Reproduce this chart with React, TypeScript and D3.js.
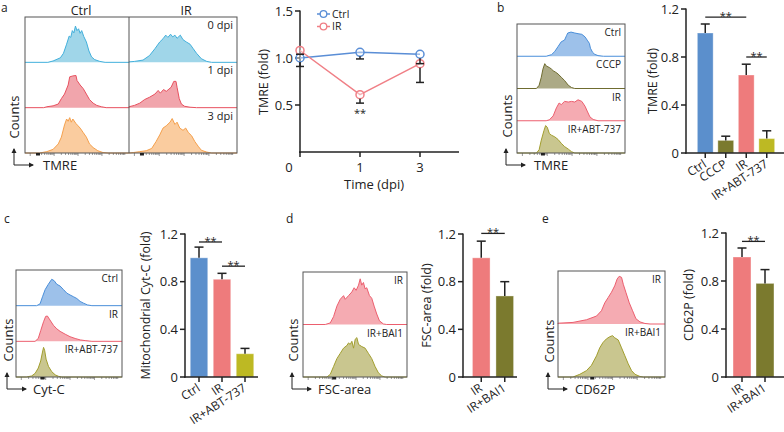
import React from "react";
import * as d3 from "d3";

const FONT = "'Open Sans', 'Noto Sans', sans-serif";

type P = [number, number];

// ---------- Panel a: flow histograms (log-axis position 0..1, relative count 0..1)
const aCtrl0: P[] = [[0.22,0],[0.27,0.03],[0.34,0.1],[0.37,0.2],[0.40,0.4],[0.425,0.58],[0.44,0.55],[0.455,0.7],[0.47,0.65],[0.485,0.8],[0.5,0.7],[0.515,0.74],[0.53,0.64],[0.545,0.7],[0.565,0.57],[0.59,0.45],[0.615,0.25],[0.64,0.12],[0.67,0.06],[0.72,0.02],[0.77,0]];
const aCtrl1: P[] = [[0.18,0],[0.21,0.02],[0.27,0.04],[0.32,0.08],[0.35,0.2],[0.38,0.3],[0.415,0.5],[0.43,0.68],[0.46,0.7],[0.49,0.71],[0.5,0.6],[0.53,0.5],[0.56,0.42],[0.59,0.3],[0.62,0.18],[0.655,0.1],[0.69,0.05],[0.735,0.02],[0.78,0]];
const aCtrl3: P[] = [[0.14,0],[0.21,0.03],[0.27,0.08],[0.32,0.2],[0.35,0.35],[0.38,0.62],[0.40,0.75],[0.415,0.7],[0.43,0.78],[0.445,0.68],[0.46,0.75],[0.49,0.65],[0.51,0.6],[0.53,0.55],[0.56,0.45],[0.59,0.35],[0.62,0.2],[0.655,0.12],[0.70,0.05],[0.75,0.01],[0.80,0]];
const aIR0: P[] = [[0.0,0.01],[0.05,0.02],[0.13,0.05],[0.19,0.15],[0.24,0.3],[0.285,0.45],[0.315,0.52],[0.34,0.6],[0.36,0.55],[0.385,0.62],[0.405,0.56],[0.425,0.6],[0.445,0.53],[0.475,0.6],[0.50,0.5],[0.53,0.45],[0.565,0.4],[0.595,0.3],[0.625,0.2],[0.67,0.08],[0.72,0.02],[0.765,0]];
const aIR1: P[] = [[0.0,0.02],[0.05,0.05],[0.10,0.1],[0.145,0.18],[0.19,0.23],[0.24,0.3],[0.27,0.38],[0.29,0.32],[0.32,0.4],[0.345,0.36],[0.37,0.41],[0.39,0.45],[0.415,0.58],[0.435,0.58],[0.445,0.45],[0.465,0.2],[0.485,0.08],[0.515,0.03],[0.565,0.01],[0.625,0]];
const aIR3: P[] = [[0.04,0.01],[0.10,0.03],[0.16,0.05],[0.21,0.1],[0.25,0.25],[0.285,0.4],[0.315,0.55],[0.345,0.6],[0.38,0.68],[0.40,0.76],[0.425,0.63],[0.445,0.68],[0.47,0.55],[0.50,0.5],[0.525,0.55],[0.55,0.45],[0.58,0.38],[0.61,0.25],[0.64,0.15],[0.67,0.06],[0.72,0.02],[0.765,0]];

// ---------- Panel b histograms
const bCtrl: P[] = [[0.27,0],[0.32,0.05],[0.35,0.15],[0.38,0.3],[0.41,0.45],[0.44,0.5],[0.46,0.65],[0.47,0.72],[0.50,0.75],[0.535,0.72],[0.565,0.7],[0.60,0.68],[0.63,0.6],[0.65,0.5],[0.67,0.4],[0.68,0.25],[0.70,0.12],[0.72,0.06],[0.75,0.02],[0.80,0]];
const bCCCP: P[] = [[0.18,0],[0.205,0.1],[0.225,0.35],[0.24,0.6],[0.257,0.77],[0.27,0.7],[0.30,0.65],[0.32,0.6],[0.335,0.55],[0.36,0.5],[0.38,0.45],[0.41,0.35],[0.44,0.25],[0.475,0.1],[0.505,0.03],[0.535,0]];
const bIR: P[] = [[0.27,0],[0.30,0.03],[0.335,0.15],[0.365,0.4],[0.39,0.55],[0.41,0.5],[0.44,0.6],[0.475,0.58],[0.505,0.6],[0.535,0.58],[0.565,0.65],[0.60,0.6],[0.63,0.45],[0.65,0.3],[0.675,0.12],[0.705,0.04],[0.75,0]];
const bABT: P[] = [[0.18,0],[0.205,0.1],[0.225,0.4],[0.25,0.7],[0.265,0.85],[0.28,0.8],[0.30,0.6],[0.32,0.55],[0.35,0.5],[0.38,0.42],[0.41,0.3],[0.44,0.2],[0.475,0.12],[0.505,0.04],[0.535,0]];

// ---------- Panel c histograms
const cCtrl: P[] = [[0.195,0],[0.227,0.05],[0.25,0.25],[0.275,0.45],[0.305,0.6],[0.337,0.74],[0.36,0.7],[0.385,0.6],[0.416,0.55],[0.448,0.45],[0.48,0.35],[0.51,0.3],[0.543,0.25],[0.574,0.2],[0.605,0.12],[0.637,0.07],[0.675,0.02],[0.716,0]];
const cIR: P[] = [[0.18,0],[0.21,0.08],[0.233,0.3],[0.26,0.55],[0.28,0.7],[0.296,0.71],[0.32,0.6],[0.353,0.45],[0.385,0.35],[0.416,0.28],[0.464,0.2],[0.51,0.13],[0.558,0.08],[0.606,0.04],[0.653,0.02],[0.716,0]];
const cABT: P[] = [[0.10,0],[0.148,0.03],[0.18,0.1],[0.21,0.25],[0.233,0.45],[0.25,0.7],[0.26,0.83],[0.27,0.75],[0.284,0.5],[0.306,0.3],[0.337,0.15],[0.37,0.06],[0.40,0.02],[0.432,0]];

// ---------- Panel d histograms
const dIR: P[] = [[0.214,0],[0.262,0.03],[0.294,0.15],[0.326,0.35],[0.358,0.48],[0.39,0.55],[0.406,0.48],[0.438,0.55],[0.47,0.62],[0.492,0.7],[0.511,0.65],[0.534,0.75],[0.55,0.87],[0.565,0.75],[0.581,0.8],[0.597,0.68],[0.613,0.7],[0.639,0.55],[0.661,0.5],[0.684,0.35],[0.709,0.2],[0.735,0.07],[0.773,0.01],[0.805,0]];
const dBAI: P[] = [[0.23,0],[0.262,0.05],[0.294,0.2],[0.326,0.35],[0.358,0.45],[0.39,0.55],[0.422,0.6],[0.438,0.65],[0.454,0.62],[0.47,0.68],[0.486,0.55],[0.502,0.72],[0.518,0.75],[0.534,0.62],[0.565,0.58],[0.597,0.55],[0.629,0.45],[0.661,0.35],[0.693,0.2],[0.725,0.08],[0.757,0.02],[0.789,0]];

// ---------- Panel e histograms
const eIR: P[] = [[0.0,0.015],[0.14,0.03],[0.266,0.08],[0.36,0.15],[0.406,0.25],[0.4375,0.4],[0.469,0.5],[0.5,0.6],[0.53,0.72],[0.553,0.85],[0.572,0.9],[0.594,0.88],[0.61,0.75],[0.634,0.6],[0.666,0.4],[0.697,0.25],[0.728,0.1],[0.766,0.04],[0.8125,0.01],[0.86,0]];
const eBAI: P[] = [[0.14,0],[0.203,0.05],[0.266,0.12],[0.3125,0.22],[0.36,0.4],[0.39,0.55],[0.42,0.65],[0.453,0.72],[0.484,0.76],[0.51,0.78],[0.53,0.74],[0.5625,0.7],[0.594,0.55],[0.625,0.4],[0.656,0.25],[0.6875,0.12],[0.72,0.05],[0.766,0.01],[0.797,0]];

// ---------- Line chart (panel a)
const timeLabels = ["0", "1", "3"];
const lineCtrlMean = [1.0, 1.06, 1.04];
const lineCtrlErr = [0.09, 0.07, 0.1];
const lineIRMean = [1.08, 0.61, 0.94];
const lineIRErr = [0.04, 0.09, 0.2];
const lineYTicks = [0.5, 1.0, 1.5];

// ---------- Bar charts
const bCats = ["Ctrl", "CCCP", "IR", "IR+ABT-737"];
const bVals = [1.0, 0.105, 0.65, 0.12];
const bErrs = [0.075, 0.035, 0.09, 0.065];
const cCats = ["Ctrl", "IR", "IR+ABT-737"];
const cVals = [1.0, 0.82, 0.195];
const cErrs = [0.09, 0.05, 0.045];
const dCats = ["IR", "IR+BAI1"];
const dVals = [1.0, 0.68];
const dErrs = [0.14, 0.12];
const eCats = ["IR", "IR+BAI1"];
const eVals = [1.0, 0.78];
const eErrs = [0.075, 0.115];
const barTicks = [0, 0.4, 0.8, 1.2];

const C = {
  ctrl: "#5B8FCC",
  cccp: "#7B7A2E",
  ir: "#EE7B7C",
  abt: "#BDB923",
  bai: "#7B7A2E",
};

type Row = { data: P[]; fill: string; stroke: string; label?: string };

function HistColumn({ x0, x1, y0, y1, rows, fs }: { x0: number; x1: number; y0: number; y1: number; rows: Row[]; fs: number }) {
  const rh = (y1 - y0) / rows.length;
  const xs = d3.scaleLinear().domain([0, 1]).range([x0, x1]);
  return (
    <g>
      {rows.map((r, i) => {
        const base = y0 + rh * (i + 1);
        const ys = d3.scaleLinear().domain([0, 1]).range([base, base - rh]);
        const pts: P[] = [[0, 0], ...r.data, [1, 0]];
        const area = d3.area<P>().x((d) => xs(d[0])).y0(base).y1((d) => ys(d[1]))(pts) || "";
        const line = d3.line<P>().x((d) => xs(d[0])).y((d) => ys(d[1]))(pts) || "";
        return (
          <g key={i}>
            <path d={area} fill={r.fill} stroke="none" />
            <path d={line} fill="none" stroke={r.stroke} strokeWidth={1} />
            {r.label && (
              <text x={x1 - 4} y={base - rh + 12} textAnchor="end" fontSize={fs} fill="#222" fontFamily={FONT}>
                {r.label}
              </text>
            )}
          </g>
        );
      })}
    </g>
  );
}

function LogTicks({ x0, x1, y, mark }: { x0: number; x1: number; y: number; mark: number }) {
  const xs = d3.scaleLinear().domain([0, 1]).range([x0, x1]);
  const ticks: { f: number; major: boolean }[] = [];
  const starts = [0.05, 0.28, 0.51, 0.74];
  starts.forEach((s) => {
    for (let k = 1; k <= 9; k++) {
      const f = s + Math.log10(k) * 0.23;
      if (f < 0.99) ticks.push({ f, major: k === 1 });
    }
  });
  return (
    <g stroke="#555" strokeWidth={0.6}>
      {ticks.map((t, i) => (
        <line key={i} x1={xs(t.f)} x2={xs(t.f)} y1={y} y2={y + (t.major ? 3 : 2)} />
      ))}
      <rect x={xs(mark) - 2} y={y} width={4} height={2.5} fill="#222" stroke="none" />
    </g>
  );
}

function Box({ x0, x1, y0, y1 }: { x0: number; x1: number; y0: number; y1: number }) {
  return <rect x={x0} y={y0} width={x1 - x0} height={y1 - y0} fill="none" stroke="#555" strokeWidth={1} />;
}

function AxisArrows({ x, y, len, hlen, label, cx, cy, lx }: { x: number; y: number; len: number; hlen: number; label: string; cx: number; cy: number; lx: number }) {
  return (
    <g>
      <line x1={x} y1={y} x2={x} y2={y - len} stroke="#222" strokeWidth={1} />
      <path d={`M${x - 2.5},${y - len + 4} L${x},${y - len - 1} L${x + 2.5},${y - len + 4} Z`} fill="#222" />
      <line x1={x} y1={y} x2={x + hlen} y2={y} stroke="#222" strokeWidth={1} />
      <path d={`M${x + hlen - 4},${y - 2.5} L${x + hlen + 1},${y} L${x + hlen - 4},${y + 2.5} Z`} fill="#222" />
      <text x={lx} y={y + 5} fontSize={13} fontFamily={FONT} fill="#222">{label}</text>
      <text transform={`translate(${cx},${cy}) rotate(-90)`} textAnchor="middle" dominantBaseline="central" fontSize={13} fontFamily={FONT} fill="#222">
        Counts
      </text>
    </g>
  );
}

type Sig = { a: number; b: number; v: number };

function BarChart(props: {
  axisX: number; axisEnd: number; yBottom: number; yTop: number;
  cats: string[]; vals: number[]; errs: number[]; colors: string[];
  band: [number, number]; pad: number; title: string; titleX: number; sigs: Sig[];
}) {
  const { axisX, axisEnd, yBottom, yTop, cats, vals, errs, colors, band, pad, title, titleX, sigs } = props;
  const y = d3.scaleLinear().domain([0, 1.2]).range([yBottom, yTop]);
  const x = d3.scaleBand<string>().domain(cats).range(band).paddingInner(pad).paddingOuter(pad / 2);
  const bw = x.bandwidth();
  const cx = (c: string) => (x(c) || 0) + bw / 2;
  return (
    <g fontFamily={FONT}>
      {cats.map((c, i) => (
        <g key={c}>
          <rect x={x(c)} y={y(vals[i])} width={bw} height={y(0) - y(vals[i])} fill={colors[i]} stroke="#ffffff" strokeOpacity={0.35} strokeWidth={1} />
          <line x1={cx(c)} x2={cx(c)} y1={y(vals[i])} y2={y(vals[i] + errs[i])} stroke="#222" strokeWidth={1.5} />
          <line x1={cx(c) - 4.5} x2={cx(c) + 4.5} y1={y(vals[i] + errs[i])} y2={y(vals[i] + errs[i])} stroke="#222" strokeWidth={1.5} />
        </g>
      ))}
      <line x1={axisX} x2={axisX} y1={yTop - 0.5} y2={yBottom + 0.75} stroke="#222" strokeWidth={1.5} />
      <line x1={axisX - 0.75} x2={axisEnd} y1={yBottom} y2={yBottom} stroke="#222" strokeWidth={1.5} />
      {barTicks.map((t) => (
        <g key={t}>
          <line x1={axisX - 5} x2={axisX} y1={y(t)} y2={y(t)} stroke="#222" strokeWidth={1.5} />
          <text x={axisX - 7} y={y(t)} dy="0.36em" textAnchor="end" fontSize={13} fill="#222">
            {t === 0 ? "0" : t.toFixed(1)}
          </text>
        </g>
      ))}
      {cats.map((c) => (
        <g key={"t" + c}>
          <line x1={cx(c)} x2={cx(c)} y1={yBottom} y2={yBottom + 5} stroke="#222" strokeWidth={1.5} />
          <text transform={`translate(${cx(c) + 2},${yBottom + 13}) rotate(-33)`} textAnchor="end" fontSize={12} fill="#222">
            {c}
          </text>
        </g>
      ))}
      {sigs.map((s, i) => (
        <g key={"s" + i}>
          <line x1={cx(cats[s.a])} x2={cx(cats[s.b])} y1={y(s.v)} y2={y(s.v)} stroke="#222" strokeWidth={1.3} />
          <text x={(cx(cats[s.a]) + cx(cats[s.b])) / 2} y={y(s.v) + 3} textAnchor="middle" fontSize={11} fill="#222">**</text>
        </g>
      ))}
      <text transform={`translate(${titleX},${(yTop + yBottom) / 2}) rotate(-90)`} textAnchor="middle" dominantBaseline="central" fontSize={12.5} fill="#222">
        {title}
      </text>
    </g>
  );
}

function LineChart() {
  const x = d3.scalePoint<string>().domain(timeLabels).range([300, 420]);
  const y = d3.scaleLinear().domain([0, 1.5]).range([152, 11]);
  const blue = "#5A8ED6";
  const red = "#F07F86";
  const series = [
    { mean: lineCtrlMean, err: lineCtrlErr, color: blue },
    { mean: lineIRMean, err: lineIRErr, color: red },
  ];
  const ln = d3.line<number>().x((_, i) => x(timeLabels[i]) || 0).y((d) => y(d));
  return (
    <g fontFamily={FONT}>
      <line x1={300} x2={300} y1={10.5} y2={153} stroke="#222" strokeWidth={1.5} />
      <line x1={299} x2={459} y1={152} y2={152} stroke="#222" strokeWidth={1.5} />
      {lineYTicks.map((t) => (
        <g key={t}>
          <line x1={295} x2={300} y1={y(t)} y2={y(t)} stroke="#222" strokeWidth={1.5} />
          <text x={293} y={y(t)} dy="0.36em" textAnchor="end" fontSize={13} fill="#222">{t.toFixed(1)}</text>
        </g>
      ))}
      {timeLabels.map((t, i) => (
        <g key={t}>
          <line x1={x(t)} x2={x(t)} y1={152} y2={157} stroke="#222" strokeWidth={1.5} />
          <text x={(x(t) || 0) - (i === 0 ? 11 : 0)} y={172} textAnchor="middle" fontSize={13} fill="#222">{t}</text>
        </g>
      ))}
      {series.map((s, k) => (
        <path key={"l" + k} d={ln(s.mean) || ""} fill="none" stroke={s.color} strokeWidth={1.5} />
      ))}
      {series.map((s, k) =>
        s.mean.map((m, i) => (
          <circle key={`c${k}${i}`} cx={x(timeLabels[i])} cy={y(m)} r={4} fill="#fff" fillOpacity={0.4} stroke={s.color} strokeWidth={1.5} />
        ))
      )}
      {series.map((s, k) =>
        s.mean.map((m, i) => {
          const px = x(timeLabels[i]) || 0;
          return (
            <g key={`e${k}${i}`} stroke="#222" strokeWidth={1.5}>
              <line x1={px} x2={px} y1={y(m) + 4} y2={y(m - s.err[i])} />
              <line x1={px - 4} x2={px + 4} y1={y(m - s.err[i])} y2={y(m - s.err[i])} />
            </g>
          );
        })
      )}
      <text x={360} y={117} textAnchor="middle" fontSize={11} fill="#222">**</text>
      {[{ n: "Ctrl", c: blue, yy: 14 }, { n: "IR", c: red, yy: 26.5 }].map((l) => (
        <g key={l.n}>
          <line x1={317} x2={330} y1={l.yy} y2={l.yy} stroke={l.c} strokeWidth={1.5} />
          <circle cx={323.5} cy={l.yy} r={3.3} fill="#fff" stroke={l.c} strokeWidth={1.3} />
          <text x={332} y={l.yy} dy="0.35em" fontSize={10.5} fill="#222">{l.n}</text>
        </g>
      ))}
      <text transform="translate(263,82) rotate(-90)" textAnchor="middle" dominantBaseline="central" fontSize={12.5} fill="#222">TMRE (fold)</text>
      <text x={374} y={189} textAnchor="middle" fontSize={13} fill="#222">Time (dpi)</text>
    </g>
  );
}

export default function App() {
  const hA = {
    blue: { fill: "#A0D6E9", stroke: "#42B0DC" },
    red: { fill: "#F1A5AC", stroke: "#E8515F" },
    orange: { fill: "#FACC9F", stroke: "#F5A04C" },
  };
  const hB = {
    blue: { fill: "#9DC1EA", stroke: "#4A8FDA" },
    olive: { fill: "#ACAA86", stroke: "#6F6C30" },
    pink: { fill: "#F5ABB2", stroke: "#EC5E6E" },
    yolive: { fill: "#C9C68F", stroke: "#A29E2E" },
  };
  return (
    <svg width={784} height={432} style={{ position: "absolute", left: 0, top: 0, background: "#fff" }} fontFamily={FONT}>
      <rect x={0} y={0} width={784} height={432} fill="#fff" />
      {/* panel letters */}
      <text x={1} y={12} fontSize={12} fill="#222">a</text>
      <text x={497} y={12} fontSize={12} fill="#222">b</text>
      <text x={4} y={223} fontSize={12} fill="#222">c</text>
      <text x={286} y={223} fontSize={12} fill="#222">d</text>
      <text x={542} y={223} fontSize={12} fill="#222">e</text>

      {/* Panel a histograms */}
      <text x={81} y={15} textAnchor="middle" fontSize={12.5} fill="#222">Ctrl</text>
      <text x={186} y={15} textAnchor="middle" fontSize={12.5} fill="#222">IR</text>
      <HistColumn x0={25} x1={129} y0={17} y1={153} fs={11} rows={[
        { data: aCtrl0, ...hA.blue },
        { data: aCtrl1, ...hA.red },
        { data: aCtrl3, ...hA.orange },
      ]} />
      <HistColumn x0={129} x1={237} y0={17} y1={153} fs={11} rows={[
        { data: aIR0, ...hA.blue, label: "0 dpi" },
        { data: aIR1, ...hA.red, label: "1 dpi" },
        { data: aIR3, ...hA.orange, label: "3 dpi" },
      ]} />
      <Box x0={25} x1={237} y0={17} y1={153} />
      <line x1={129} x2={129} y1={17} y2={153} stroke="#555" strokeWidth={1} />
      <LogTicks x0={25} x1={129} y={153} mark={0.125} />
      <LogTicks x0={129} x1={237} y={153} mark={0.12} />
      <AxisArrows x={14} y={165} len={16} hlen={19} label="TMRE" cx={14} cy={117} lx={43} />

      <LineChart />

      {/* Panel b histograms */}
      <HistColumn x0={517} x1={625} y0={24} y1={153} fs={10} rows={[
        { data: bCtrl, ...hB.blue, label: "Ctrl" },
        { data: bCCCP, ...hB.olive, label: "CCCP" },
        { data: bIR, ...hB.pink, label: "IR" },
        { data: bABT, ...hB.yolive, label: "IR+ABT-737" },
      ]} />
      <Box x0={517} x1={625} y0={24} y1={153} />
      <LogTicks x0={517} x1={625} y={153} mark={0.24} />
      <AxisArrows x={506} y={165} len={16} hlen={19} label="TMRE" cx={507} cy={116} lx={534} />

      <BarChart axisX={686} axisEnd={784} yBottom={153} yTop={9} cats={bCats} vals={bVals} errs={bErrs}
        colors={[C.ctrl, C.cccp, C.ir, C.abt]} band={[695, 777]} pad={0.23} title="TMRE (fold)" titleX={652}
        sigs={[{ a: 0, b: 2, v: 1.133 }, { a: 2, b: 3, v: 0.8 }]} />

      {/* Panel c */}
      <HistColumn x0={16} x1={122} y0={270} y1={377} fs={10} rows={[
        { data: cCtrl, ...hB.blue, label: "Ctrl" },
        { data: cIR, ...hB.pink, label: "IR" },
        { data: cABT, ...hB.yolive, label: "IR+ABT-737" },
      ]} />
      <Box x0={16} x1={122} y0={270} y1={377} />
      <LogTicks x0={16} x1={122} y={377} mark={0.25} />
      <AxisArrows x={7} y={389} len={16} hlen={19} label="Cyt-C" cx={8} cy={340} lx={33} />
      <BarChart axisX={185} axisEnd={258} yBottom={377} yTop={234} cats={cCats} vals={cVals} errs={cErrs}
        colors={[C.ctrl, C.ir, C.abt]} band={[187.5, 256.5]} pad={0.24} title="Mitochondrial Cyt-C (fold)" titleX={145}
        sigs={[{ a: 0, b: 1, v: 1.133 }, { a: 1, b: 2, v: 0.93 }]} />

      {/* Panel d */}
      <HistColumn x0={303} x1={407} y0={272} y1={377} fs={10} rows={[
        { data: dIR, ...hB.pink, label: "IR" },
        { data: dBAI, ...hB.yolive, label: "IR+BAI1" },
      ]} />
      <Box x0={303} x1={407} y0={272} y1={377} />
      <LogTicks x0={303} x1={407} y={377} mark={0.3} />
      <AxisArrows x={292} y={389} len={16} hlen={19} label="FSC-area" cx={293} cy={340} lx={318} />
      <BarChart axisX={463} axisEnd={517} yBottom={377} yTop={234} cats={dCats} vals={dVals} errs={dErrs}
        colors={[C.ir, C.bai]} band={[469.5, 516.5]} pad={0.25} title="FSC-area (fold)" titleX={426}
        sigs={[{ a: 0, b: 1, v: 1.205 }]} />

      {/* Panel e */}
      <HistColumn x0={558} x1={665} y0={271} y1={377} fs={10} rows={[
        { data: eIR, ...hB.pink, label: "IR" },
        { data: eBAI, ...hB.yolive, label: "IR+BAI1" },
      ]} />
      <Box x0={558} x1={665} y0={271} y1={377} />
      <LogTicks x0={558} x1={665} y={377} mark={0.32} />
      <AxisArrows x={548} y={389} len={16} hlen={19} label="CD62P" cx={549} cy={341} lx={575} />
      <BarChart axisX={726} axisEnd={784} yBottom={377} yTop={233} cats={eCats} vals={eVals} errs={eErrs}
        colors={[C.ir, C.bai]} band={[730.5, 776.5]} pad={0.22} title="CD62P (fold)" titleX={688}
        sigs={[{ a: 0, b: 1, v: 1.13 }]} />
    </svg>
  );
}
